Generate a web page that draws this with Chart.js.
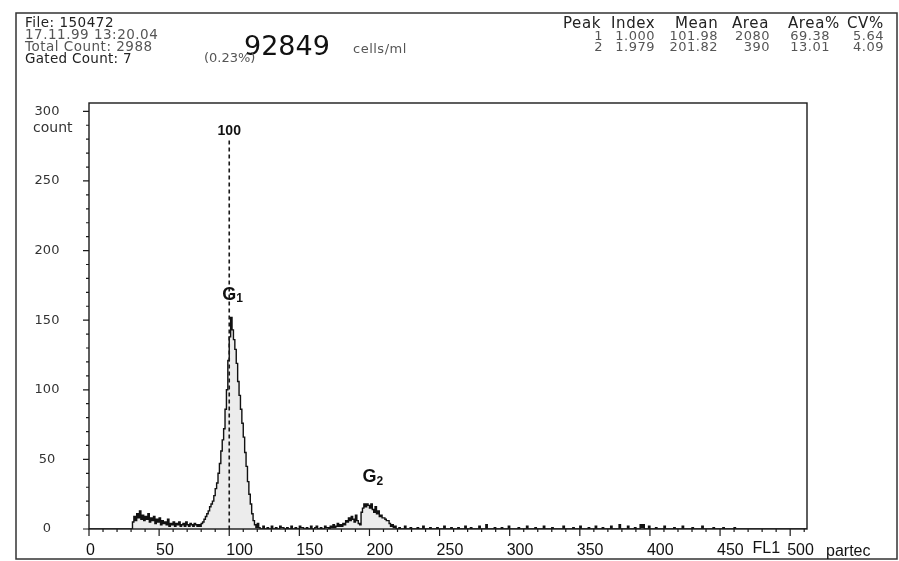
<!DOCTYPE html>
<html>
<head>
<meta charset="utf-8">
<script src="https://cdn.jsdelivr.net/npm/chart.js@4.4.1/dist/chart.umd.min.js"></script>
<style>
body { margin: 0; background: #fff; }
#wrap { position: relative; width: 899px; height: 561px; overflow: hidden; }
canvas { position: absolute; left: 0; top: 0; }
.t { position: absolute; white-space: nowrap; font-family: "DejaVu Sans"; line-height: 16px; color: #222; }
.g { color: #555; }
</style>
</head>
<body>
<div id="wrap">
  <canvas id="c" width="899" height="561"></canvas>
  <div class="t" style="left:25px;top:14px;font-size:13.5px;letter-spacing:0.5px">File: 150472</div>
  <div class="t g" style="left:25px;top:26px;font-size:13.5px;letter-spacing:0.5px">17.11.99 13:20.04</div>
  <div class="t g" style="left:25px;top:38px;font-size:13.5px;letter-spacing:0.5px">Total Count: 2988</div>
  <div class="t" style="left:25px;top:50px;font-size:13.5px;letter-spacing:0.3px">Gated Count: 7</div>
  <div class="t" style="left:244px;top:30px;font-size:27px;line-height:32px;color:#111">92849</div>
  <div class="t g" style="left:353px;top:41px;font-size:13px;letter-spacing:0.5px">cells/ml</div>
  <div class="t g" style="left:204px;top:50px;font-size:13px">(0.23%)</div>
  <div id="peaks"></div>
</div>
<script>
// header table (peak statistics)
const peakHead = ["Peak", "Index", "Mean", "Area", "Area%", "CV%"];
const peakNo = ["1", "2"];
const peakIndex = ["1.000", "1.979"];
const peakMean = ["101.98", "201.82"];
const peakArea = ["2080", "390"];
const peakAreaPct = ["69.38", "13.01"];
const peakCV = ["5.64", "4.09"];

// histogram, counts per FL1 channel
const lowStart = 31;   // debris, channels 31-79
const lowCounts = [5, 9, 6, 11, 8, 13, 7, 10, 6, 9, 7, 11, 5, 8, 6, 9, 4, 7, 5, 8,
  3, 6, 4, 5, 3, 7, 2, 4, 3, 5, 2, 4, 3, 5, 2, 3, 4, 2, 5, 3,
  2, 4, 3, 2, 4, 3, 2, 3, 2];
const g1Start = 80;    // G1 peak, channels 80-122
const g1Counts = [4, 5, 7, 9, 11, 13, 16, 18, 20, 24, 29, 33, 40, 47, 56, 64, 72, 86, 100, 121,
  138, 152, 143, 136, 129, 119, 106, 96, 86, 76, 66, 55, 45, 34, 25, 18, 11, 6, 3, 1,
  4, 1, 0];
const midChannels = [124, 125, 127, 128, 130, 131, 133, 134, 136, 137, 139, 141, 142, 144, 145, 147, 148,
  150, 151, 153, 155, 156, 158, 159, 161, 162, 163, 165, 166, 168, 169, 171, 172, 173, 174,
  175, 176, 177, 178, 179];
const midCounts = [2, 0, 1, 0, 2, 0, 1, 0, 2, 1, 0, 1, 0, 2, 0, 1, 0,
  2, 1, 0, 1, 0, 2, 0, 1, 2, 0, 1, 0, 2, 1, 0, 2, 1, 3,
  1, 2, 4, 2, 3];
const g2Start = 180;   // G2 peak, channels 180-219
const g2Counts = [2, 4, 3, 6, 5, 8, 6, 9, 7, 5, 10, 6, 4, 3, 12, 15, 18, 16, 18, 17,
  15, 18, 14, 12, 16, 11, 13, 9, 10, 8, 8, 7, 6, 6, 4, 2, 3, 1, 2, 0];
const tailChannels = [221, 222, 225, 226, 229, 230, 234, 235, 238, 239, 243, 244, 248, 249, 253, 254,
  258, 259, 263, 264, 268, 269, 272, 273, 278, 279, 283, 284, 289, 290, 294, 295, 299, 300,
  306, 307, 312, 313, 318, 319, 324, 325, 330, 331, 338, 339, 345, 346, 350, 351, 356, 357,
  361, 362, 366, 367, 372, 373, 378, 379, 384, 385, 389, 390, 393, 394, 395, 396, 399, 400,
  404, 405, 410, 411, 417, 418, 423, 424, 430, 431, 437, 438, 445, 446, 452, 453, 460, 461, 512];
const tailCounts = [1, 0, 2, 0, 1, 0, 1, 0, 2, 0, 1, 0, 1, 0, 2, 0,
  1, 0, 1, 0, 2, 0, 1, 0, 2, 0, 3, 0, 1, 0, 1, 0, 2, 0,
  1, 0, 2, 0, 1, 0, 2, 0, 1, 0, 2, 0, 1, 0, 2, 0, 1, 0,
  2, 0, 1, 0, 2, 0, 3, 0, 2, 0, 1, 0, 3, 1, 3, 0, 2, 0,
  1, 0, 2, 0, 1, 0, 2, 0, 1, 0, 2, 0, 1, 0, 1, 0, 1, 0, 0];

const g1Mark = 100;    // dashed marker channel

// peak table into the header
const cols = [peakNo, peakIndex, peakMean, peakArea, peakAreaPct, peakCV];
const headLeft = [563, 611, 675, 732, 788, 847];
const colRight = [603, 655, 718, 770, 830, 884];
let peaksHtml = "";
peakHead.forEach((h, i) => {
  peaksHtml += `<div class="t" style="left:${headLeft[i]}px;top:15px;font-size:15px;letter-spacing:0.6px">${h}</div>`;
});
cols.forEach((col, i) => {
  col.forEach((v, r) => {
    peaksHtml += `<div class="t g" style="right:${899 - colRight[i]}px;top:${28 + r * 11}px;font-size:13px;letter-spacing:0.5px">${v}</div>`;
  });
});
document.getElementById("peaks").innerHTML = peaksHtml;

let points = [{ x: 0, y: 0 }];
lowCounts.forEach((v, i) => points.push({ x: lowStart + i, y: v }));
g1Counts.forEach((v, i) => points.push({ x: g1Start + i, y: v }));
midChannels.forEach((c, i) => points.push({ x: c, y: midCounts[i] }));
g2Counts.forEach((v, i) => points.push({ x: g2Start + i, y: v }));
tailChannels.forEach((c, i) => points.push({ x: c, y: tailCounts[i] }));
points.sort((a, b) => a.x - b.x);

const decor = {
  id: "decor",
  afterDatasetsDraw(chart) {
    const c = chart.ctx;
    const xs = chart.scales.x, ys = chart.scales.y;
    const a = chart.chartArea;
    c.save();
    // outer frame
    c.strokeStyle = "#333";
    c.lineWidth = 1.5;
    c.strokeRect(16, 13, 881, 546);
    // plot frame
    c.strokeStyle = "#1a1a1a";
    c.lineWidth = 1.4;
    c.strokeRect(a.left, a.top, a.right - a.left, a.bottom - a.top);
    // ticks
    c.lineWidth = 1.2;
    c.beginPath();
    for (let v = 0; v <= 510; v += 10) {
      const px = xs.getPixelForValue(v);
      c.moveTo(px, a.bottom);
      c.lineTo(px, a.bottom + (v % 50 === 0 ? 7 : 3));
    }
    for (let v = 0; v <= 300; v += 10) {
      const py = ys.getPixelForValue(v);
      c.moveTo(a.left, py);
      c.lineTo(a.left - (v % 50 === 0 ? 6 : 3), py);
    }
    c.stroke();
    // y tick labels, from the scale's own ticks
    c.fillStyle = "#333";
    c.font = "13px 'DejaVu Sans'";
    c.textAlign = "center";
    c.textBaseline = "middle";
    ys.ticks.forEach((t) => c.fillText(String(t.value), 47, ys.getPixelForValue(t.value)));
    c.textAlign = "left";
    c.font = "14px 'DejaVu Sans'";
    c.fillText("count", 33, ys.getPixelForValue(288));
    // dashed marker at channel 100
    const mx = xs.getPixelForValue(g1Mark);
    c.strokeStyle = "#1a1a1a";
    c.setLineDash([4, 3]);
    c.lineWidth = 1.6;
    c.beginPath();
    c.moveTo(mx, ys.getPixelForValue(279));
    c.lineTo(mx, a.bottom);
    c.stroke();
    c.setLineDash([]);
    c.fillStyle = "#111";
    c.textAlign = "center";
    c.font = "bold 14px 'Liberation Sans'";
    c.fillText(String(g1Mark), mx, ys.getPixelForValue(286));
    // peak labels
    const gl = (txt, sub, v, y) => {
      const px = xs.getPixelForValue(v), py = ys.getPixelForValue(y);
      c.font = "bold 18px 'Liberation Sans'";
      c.textAlign = "left";
      c.fillText(txt, px, py);
      const w = c.measureText(txt).width;
      c.font = "bold 12px 'Liberation Sans'";
      c.fillText(sub, px + w, py + 4);
    };
    gl("G", "1", 95, 168);
    gl("G", "2", 195, 37);
    // axis titles
    c.fillStyle = "#111";
    c.font = "16px 'Liberation Sans'";
    c.textBaseline = "top";
    c.textAlign = "center";
    c.fillText("FL1", xs.getPixelForValue(483), a.bottom + 12);
    c.textAlign = "left";
    c.fillText("partec", 826, a.bottom + 15);
    c.restore();
  }
};

new Chart(document.getElementById("c"), {
  type: "line",
  data: {
    datasets: [{
      data: points,
      stepped: "before",
      borderColor: "#111",
      borderWidth: 1.4,
      pointRadius: 0,
      fill: "origin",
      backgroundColor: "rgba(200,200,200,0.35)",
    }],
  },
  options: {
    responsive: false,
    animation: false,
    layout: { padding: { left: 0, right: 92, top: 103, bottom: 0 } },
    plugins: { legend: { display: false }, tooltip: { enabled: false } },
    scales: {
      x: {
        type: "linear",
        min: 0,
        max: 512,
        afterFit: (s) => { s.height = 32; },
        grid: { display: false, drawTicks: false },
        border: { display: false },
        ticks: {
          stepSize: 50, includeBounds: false, autoSkip: false, maxRotation: 0,
          align: "start", labelOffset: -3, padding: 12, color: "#111",
          font: { family: "Liberation Sans", size: 16 },
        },
      },
      y: {
        min: 0,
        max: 306,
        afterFit: (s) => { s.width = 89; },
        grid: { display: false, drawTicks: false },
        border: { display: false },
        ticks: { stepSize: 50, includeBounds: false, display: false },
      },
    },
  },
  plugins: [decor],
});
</script>
</body>
</html>
